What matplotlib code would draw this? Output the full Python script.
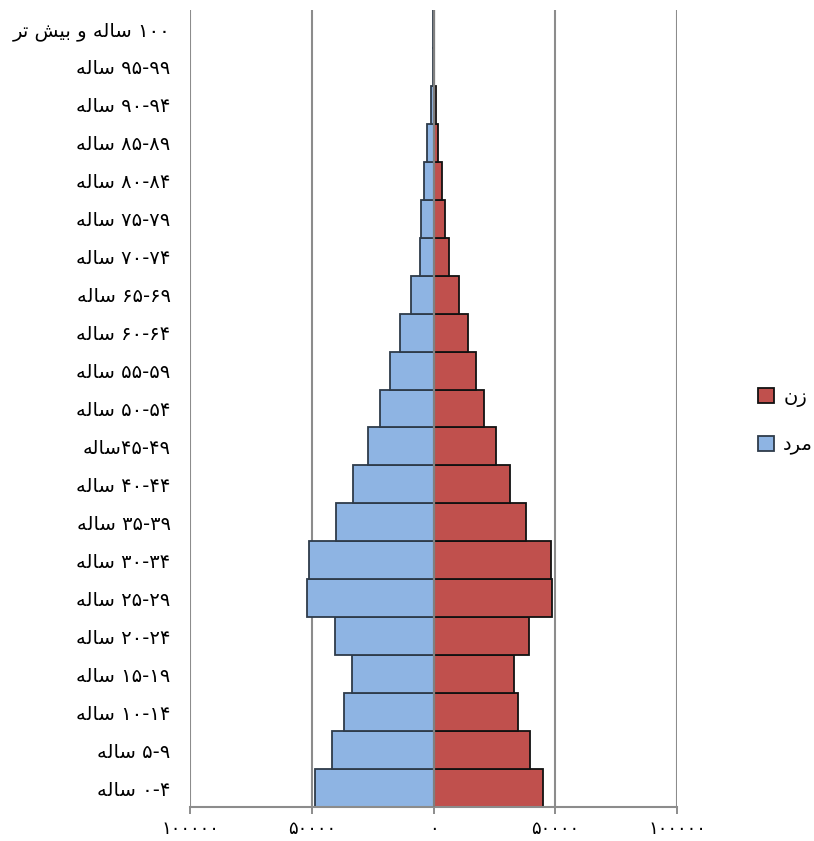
import matplotlib
matplotlib.use("Agg")
import matplotlib.pyplot as plt
from matplotlib.patches import Patch
from matplotlib.ticker import FuncFormatter, FixedLocator

# ---------------- data ----------------
age_groups = ["۰-۴ ساله", "۵-۹ ساله", "۱۰-۱۴ ساله", "۱۵-۱۹ ساله", "۲۰-۲۴ ساله",
              "۲۵-۲۹ ساله", "۳۰-۳۴ ساله", "۳۵-۳۹ ساله", "۴۰-۴۴ ساله", "۴۵-۴۹ساله",
              "۵۰-۵۴ ساله", "۵۵-۵۹ ساله", "۶۰-۶۴ ساله", "۶۵-۶۹ ساله", "۷۰-۷۴ ساله",
              "۷۵-۷۹ ساله", "۸۰-۸۴ ساله", "۸۵-۸۹ ساله", "۹۰-۹۴ ساله", "۹۵-۹۹ ساله",
              "۱۰۰ ساله و بیش تر"]
male = [48500, 41600, 36600, 33400, 40300, 51800, 51100, 39900, 32900, 27100,
        21800, 17800, 13600, 9200, 5500, 5300, 4100, 2500, 1100, 250, 120]
female = [44800, 39700, 34900, 33000, 39400, 48800, 48400, 38000, 31400, 25800,
          20700, 17300, 14000, 10400, 6200, 4900, 3500, 1800, 1100, 250, 120]
series_names = ["مرد", "زن"]
x_ticks = [-100000, -50000, 0, 50000, 100000]

# ---------------- minimal Persian shaping ----------------
FORMS = {  # isolated, final, initial, medial
    'س': ('\uFEB1', '\uFEB2', '\uFEB3', '\uFEB4'),
    'ا': ('\uFE8D', '\uFE8E', None, None),
    'ل': ('\uFEDD', '\uFEDE', '\uFEDF', '\uFEE0'),
    'ه': ('\uFEE9', '\uFEEA', '\uFEEB', '\uFEEC'),
    'و': ('\uFEED', '\uFEEE', None, None),
    'ب': ('\uFE8F', '\uFE90', '\uFE91', '\uFE92'),
    'ی': ('\uFBFC', '\uFBFD', '\uFEF3', '\uFEF4'),
    'ش': ('\uFEB5', '\uFEB6', '\uFEB7', '\uFEB8'),
    'ت': ('\uFE95', '\uFE96', '\uFE97', '\uFE98'),
    'ر': ('\uFEAD', '\uFEAE', None, None),
    'ز': ('\uFEAF', '\uFEB0', None, None),
    'ن': ('\uFEE5', '\uFEE6', '\uFEE7', '\uFEE8'),
    'م': ('\uFEE1', '\uFEE2', '\uFEE3', '\uFEE4'),
    'د': ('\uFEA9', '\uFEAA', None, None),
}
DIGITS = set("۰۱۲۳۴۵۶۷۸۹0123456789")


def shape(text):
    out = []
    for i, ch in enumerate(text):
        if ch not in FORMS:
            out.append(ch)
            continue
        prev = text[i - 1] if i > 0 else ''
        nxt = text[i + 1] if i + 1 < len(text) else ''
        jp = prev in FORMS and FORMS[prev][2] is not None
        jn = nxt in FORMS and FORMS[ch][2] is not None
        iso, fin, ini, med = FORMS[ch]
        if jp and jn:
            out.append(med)
        elif jp:
            out.append(fin)
        elif jn:
            out.append(ini)
        else:
            out.append(iso)
    return ''.join(out)


def visual(text):
    shaped = shape(text)
    runs, cur, cur_num = [], '', None
    for ch in shaped:
        is_num = ch in DIGITS or (ch == '-' and cur_num)
        if cur_num is None or is_num == cur_num:
            cur += ch
            cur_num = is_num if cur_num is None else cur_num
        else:
            runs.append((cur, cur_num))
            cur, cur_num = ch, is_num
    if cur:
        runs.append((cur, cur_num))
    res = ''
    for r, num in reversed(runs):
        res += r if num else r[::-1]
    return res


def to_fa(n):
    return str(int(round(abs(n)))).translate(str.maketrans("0123456789", "۰۱۲۳۴۵۶۷۸۹"))


# ---------------- plot ----------------
plt.rcParams['font.family'] = ['DejaVu Sans']
fig = plt.figure(figsize=(8.14, 8.41), dpi=100)
ax = fig.add_axes([190 / 814, 1 - 807 / 841, (677 - 190) / 814, (807 - 10) / 841])

blue, red = '#8EB4E3', '#C0504D'
ypos = list(range(len(age_groups)))
ax.barh(ypos, [-v for v in male], height=1.0, color=blue, edgecolor='#2E3B4A',
        linewidth=1.3, zorder=2)
ax.barh(ypos, female, height=1.0, color=red, edgecolor='#111111',
        linewidth=1.3, zorder=2)
ax.axvline(0, color='#7F7F7F', linewidth=1.6, zorder=4)

ax.set_xlim(-100000, 100000)
ax.set_ylim(-0.5, len(age_groups) - 0.5)
ax.xaxis.set_major_locator(FixedLocator(x_ticks))
ax.xaxis.set_major_formatter(FuncFormatter(lambda v, p: to_fa(v)))
ax.set_yticks(ypos)
ax.set_yticklabels([visual(s) for s in age_groups], fontsize=14)
ax.tick_params(axis='y', length=0, pad=14)
ax.tick_params(axis='x', length=5, width=1.4, color='#8C8C8C', labelsize=13, pad=4)

ax.grid(axis='x', color='#8C8C8C', linewidth=1.5)
ax.grid(axis='y', visible=False)
ax.set_axisbelow(True)
for s in ['top', 'right', 'left']:
    ax.spines[s].set_visible(False)
ax.spines['bottom'].set_color('#8C8C8C')
ax.spines['bottom'].set_linewidth(1.5)

handles = [Patch(facecolor=red, edgecolor='#111111', linewidth=1.3),
           Patch(facecolor=blue, edgecolor='#2E3B4A', linewidth=1.3)]
labels = [visual(series_names[1]), visual(series_names[0])]
fig.legend(handles, labels, loc='center left', bbox_to_anchor=(758 / 814, 1 - 421 / 841),
           bbox_transform=fig.transFigure, frameon=False, fontsize=14,
           handlelength=0.8, handleheight=0.8, handletextpad=0.5,
           labelspacing=1.45, borderpad=0, borderaxespad=0)

fig.savefig('out.png', dpi=100)
